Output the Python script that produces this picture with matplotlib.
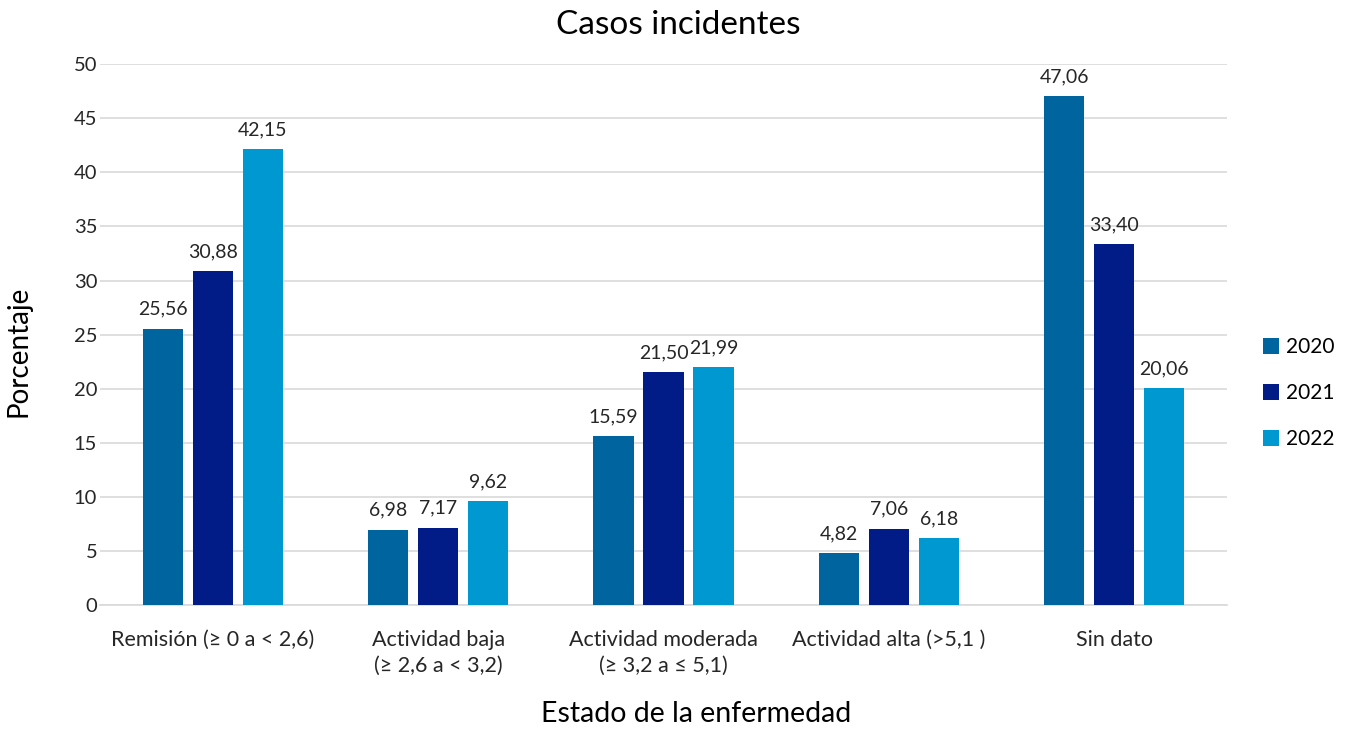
import numpy as np
import matplotlib
matplotlib.use('Agg')
import matplotlib.pyplot as plt

plt.rcParams['font.family'] = ['Lato', 'DejaVu Sans']

categorias = ['Remisión (≥ 0 a < 2,6)', 'Actividad baja\n(≥ 2,6 a < 3,2)',
              'Actividad moderada\n(≥ 3,2 a ≤ 5,1)', 'Actividad alta (>5,1 )', 'Sin dato']
anios = ['2020', '2021', '2022']
v2020 = [25.56, 6.98, 15.59, 4.82, 47.06]
v2021 = [30.88, 7.17, 21.50, 7.06, 33.40]
v2022 = [42.15, 9.62, 21.99, 6.18, 20.06]
colores = ['#00649F', '#021C87', '#0098D0']

fig = plt.figure(figsize=(13.53, 7.29), dpi=100)
ax = fig.add_axes([0.0739, 0.170, 0.833, 0.742])

x = np.arange(len(categorias))
ancho = 0.178
paso = 0.222
for i, (serie, col, lab) in enumerate(zip([v2020, v2021, v2022], colores, anios)):
    bars = ax.bar(x + (i - 1) * paso, serie, ancho, color=col, label=lab, zorder=3)
    for b, v in zip(bars, serie):
        ax.text(b.get_x() + b.get_width() / 2, v + 1.0, f'{v:.2f}'.replace('.', ','),
                ha='center', va='bottom', fontsize=14, color='#262626')

ax.set_xlim(-0.5, len(categorias) - 0.5)
ax.set_ylim(0, 50)
ax.set_yticks(range(0, 51, 5))
ax.yaxis.grid(True, color='#D9D9D9', linewidth=1.2, zorder=0)
ax.set_xticks(x)
ax.set_xticklabels(categorias, fontsize=15.5, color='#262626', linespacing=1.35)
ax.tick_params(axis='y', labelsize=14.5, colors='#262626', length=0, pad=2)
ax.tick_params(axis='x', length=0, pad=18)
for s in ['top', 'right', 'left']:
    ax.spines[s].set_visible(False)
ax.spines['bottom'].set_color('#D9D9D9')
ax.spines['bottom'].set_linewidth(1.2)

fig.suptitle('Casos incidentes', fontsize=24, color='#000000', x=0.501, y=0.986, va='top')
ax.set_ylabel('Porcentaje', fontsize=20)
ax.yaxis.set_label_coords(-0.061, 0.47)
ax.set_xlabel('Estado de la enfermedad', fontsize=20.5)
ax.xaxis.set_label_coords(0.529, -0.178)

ax.legend(loc='center left', bbox_to_anchor=(1.015, 0.392), frameon=False,
          fontsize=15, handlelength=0.8, handleheight=0.8, labelspacing=1.25,
          handletextpad=0.3)

fig.savefig('out.png', dpi=100)
